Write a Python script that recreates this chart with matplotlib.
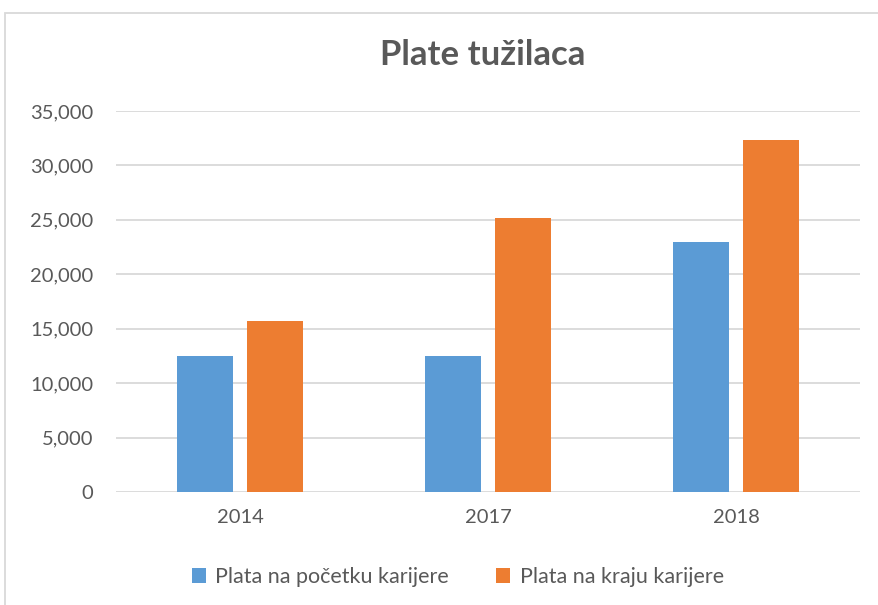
import matplotlib.pyplot as plt
import numpy as np
from matplotlib.patches import Rectangle

years = ['2014', '2017', '2018']
plata_pocetak = [12500, 12500, 23000]
plata_kraj = [15700, 25200, 32300]
series_names = ['Plata na početku karijere', 'Plata na kraju karijere']

blue = '#5b9bd5'
orange = '#ed7d31'
txt = '#595959'
grid = '#d9d9d9'

plt.rcParams['font.family'] = ['Lato', 'DejaVu Sans']

fig = plt.figure(figsize=(8.79, 6.05), dpi=100)
ax = fig.add_axes([116/879, 1 - 492/605, (860 - 116)/879, (492 - 111)/605])

x = np.arange(len(years))
w = 0.226
ax.bar(x - 0.142, plata_pocetak, w, color=blue, label=series_names[0], zorder=3)
ax.bar(x + 0.142, plata_kraj, w, color=orange, label=series_names[1], zorder=3)

ax.set_xlim(-0.5, 2.5)
ax.set_ylim(0, 35000)
ax.set_yticks(range(0, 35001, 5000))
ax.set_yticklabels([f'{v:,}' for v in range(0, 35001, 5000)])
ax.set_xticks(x)
ax.set_xticklabels(years)
ax.tick_params(length=0, labelsize=14.5, colors=txt)
ax.tick_params(axis='y', pad=16.5)
ax.tick_params(axis='x', pad=12)
ax.grid(axis='y', color=grid, lw=1.3, zorder=0)
for s in ax.spines.values():
    s.set_visible(False)

fig.text(483/879, 1 - 55/605, 'Plate tužilaca', ha='center', va='center',
         fontsize=25, fontweight='bold', color=txt)

fig.legend(loc='center', bbox_to_anchor=(458/879, 1 - 577/605), ncol=2,
           frameon=False, fontsize=15.5, labelcolor=txt, handlelength=0.65,
           handleheight=0.65, handletextpad=0.45, columnspacing=2.2)

# chart border (clipped at right and bottom like the source)
fig.patches.append(Rectangle((5/879, -0.1), 1.0, 1 - 13/605 + 0.1,
                             transform=fig.transFigure, fill=False,
                             edgecolor=grid, lw=1.3))

fig.savefig('out.png', dpi=100)
